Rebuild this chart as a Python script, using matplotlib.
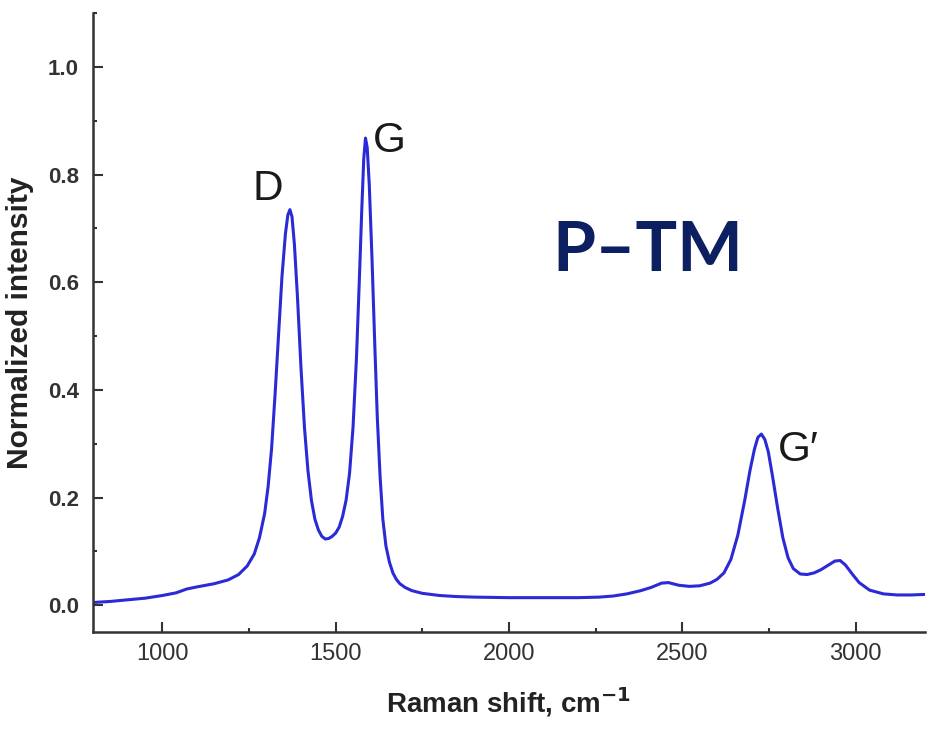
import matplotlib
matplotlib.use("Agg")
import matplotlib.pyplot as plt
from matplotlib.ticker import MultipleLocator

plt.rcParams['font.family'] = ['Liberation Sans', 'DejaVu Sans']

raman_shift = [800, 850, 900, 950, 1000, 1040, 1070, 1100, 1150, 1190, 1220, 1245, 1265, 1280,
               1295, 1305, 1315, 1325, 1335, 1345, 1355, 1362, 1368, 1374, 1381, 1390, 1400,
               1410, 1420, 1430, 1440, 1450, 1460, 1470, 1480, 1490, 1500, 1510, 1520, 1530,
               1540, 1550, 1560, 1568, 1575, 1581, 1586, 1591, 1597, 1605, 1613, 1620, 1628,
               1636, 1645, 1655, 1665, 1675, 1685, 1700, 1720, 1750, 1800, 1850, 1900, 2000,
               2100, 2200, 2260, 2300, 2340, 2380, 2410, 2440, 2460, 2490, 2520, 2550, 2580,
               2600, 2620, 2640, 2660, 2680, 2695, 2708, 2718, 2728, 2738, 2748, 2760, 2775,
               2790, 2805, 2820, 2840, 2860, 2880, 2900, 2920, 2940, 2955, 2970, 2990, 3010,
               3040, 3080, 3120, 3160, 3200]
intensity = [0.005, 0.007, 0.010, 0.013, 0.018, 0.023, 0.030, 0.034, 0.040, 0.047, 0.057, 0.073,
             0.095, 0.125, 0.170, 0.220, 0.290, 0.390, 0.500, 0.610, 0.690, 0.725, 0.735, 0.722,
             0.670, 0.570, 0.440, 0.330, 0.250, 0.195, 0.160, 0.140, 0.128, 0.123, 0.124, 0.128,
             0.134, 0.145, 0.165, 0.195, 0.245, 0.330, 0.460, 0.600, 0.730, 0.830, 0.868, 0.850,
             0.780, 0.640, 0.480, 0.350, 0.240, 0.160, 0.110, 0.080, 0.060, 0.048, 0.040, 0.033,
             0.027, 0.022, 0.018, 0.016, 0.015, 0.014, 0.014, 0.014, 0.015, 0.017, 0.021, 0.027,
             0.033, 0.041, 0.042, 0.037, 0.035, 0.036, 0.041, 0.048, 0.060, 0.085, 0.130, 0.195,
             0.250, 0.290, 0.312, 0.318, 0.308, 0.285, 0.240, 0.180, 0.125, 0.088, 0.068, 0.058,
             0.057, 0.060, 0.066, 0.074, 0.082, 0.083, 0.075, 0.058, 0.042, 0.028, 0.021, 0.019,
             0.019, 0.020]

peak_labels = ["D", "G", "G\u2032"]
peak_label_x = [1303, 1656, 2835]
peak_label_y = [0.773, 0.862, 0.289]

sample_name = "P\u2013TM"

fig = plt.figure(figsize=(9.32, 7.35), dpi=100)
ax = fig.add_axes([0.0998, 0.140, 0.8927, 0.842])

ax.plot(raman_shift, intensity, color='#2a2ad6', lw=2.2, solid_joinstyle='round')

ax.set_xlim(800, 3200)
ax.set_ylim(-0.05, 1.1)
ax.xaxis.set_major_locator(MultipleLocator(500))
ax.xaxis.set_minor_locator(MultipleLocator(250))
ax.yaxis.set_major_locator(MultipleLocator(0.2))
ax.yaxis.set_minor_locator(MultipleLocator(0.1))
ax.yaxis.set_major_formatter(plt.FuncFormatter(lambda v, p: f"{v:.1f}"))

for s in ['top', 'right']:
    ax.spines[s].set_visible(False)
for s in ['left', 'bottom']:
    ax.spines[s].set_color('#333333')
    ax.spines[s].set_linewidth(1.8)

ax.tick_params(which='major', direction='in', length=7, width=1.5, color='#333333')
ax.tick_params(which='minor', direction='in', length=3, width=1.5, color='#333333')
ax.tick_params(axis='x', labelsize=17, labelcolor='#333333', pad=8)
ax.tick_params(axis='y', labelsize=16, labelcolor='#333333', pad=10)
for lbl in ax.get_yticklabels():
    lbl.set_fontweight('bold')

ax.set_xlabel("Raman shift, cm$^{\\mathbf{-1}}$", fontsize=20, fontweight='bold',
              color='#222222', labelpad=14)
ax.set_ylabel("Normalized intensity", fontsize=21.5, fontweight='bold',
              color='#222222', labelpad=10)

for t, x, y in zip(peak_labels, peak_label_x, peak_label_y):
    ax.text(x, y, t, fontsize=30.5, color='#1a1a1a', ha='center', va='center',
            family=['Liberation Sans', 'DejaVu Sans'])

ax.text(2399, 0.657, sample_name, fontsize=50, fontweight='bold', color='#0c2061',
        ha='center', va='center', family=['Lato', 'DejaVu Sans'])

fig.savefig("out.png", dpi=100)
